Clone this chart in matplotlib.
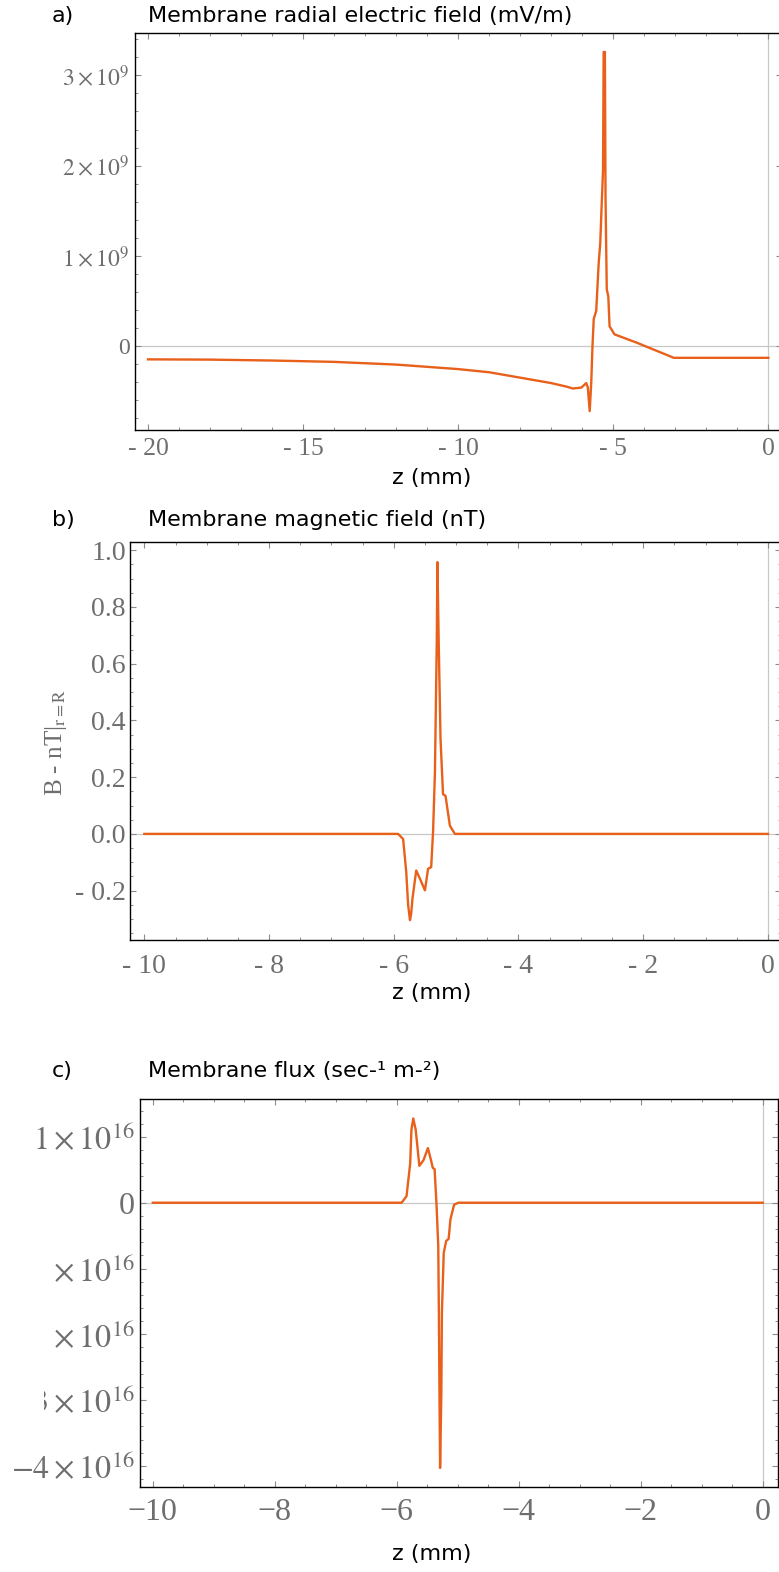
import matplotlib
matplotlib.use("Agg")
import matplotlib.pyplot as plt
from matplotlib.ticker import FixedLocator, MultipleLocator, FixedFormatter
from matplotlib.patches import Rectangle

# ---- data ----
# a) membrane radial electric field (units of 1e9 mV/m)
za = [-20, -18, -16, -14, -12, -10, -9, -8, -7, -6.5, -6.3, -6.03, -5.87, -5.82,
      -5.76, -5.71, -5.67, -5.63, -5.55, -5.47, -5.42, -5.38, -5.33, -5.31,
      -5.27, -5.25, -5.21, -5.16, -5.12, -4.96, -4.26, -3.19, -3.05, 0]
ea = [-0.147, -0.150, -0.160, -0.175, -0.205, -0.255, -0.29, -0.35, -0.41, -0.45,
      -0.47, -0.46, -0.41, -0.46, -0.72, -0.40, 0.0, 0.30, 0.39, 0.92, 1.14,
      1.51, 1.95, 3.26, 3.26, 1.66, 0.63, 0.55, 0.22, 0.13, 0.04, -0.11,
      -0.13, -0.13]

# b) membrane magnetic field (nT)
zb = [-10, -5.93, -5.85, -5.80, -5.77, -5.74, -5.72, -5.70, -5.64, -5.58, -5.50,
      -5.45, -5.40, -5.37, -5.34, -5.31, -5.30, -5.28, -5.25, -5.21, -5.17,
      -5.10, -5.02, 0]
bb = [0.0, 0.0, -0.018, -0.134, -0.25, -0.304, -0.28, -0.228, -0.129, -0.158,
      -0.199, -0.123, -0.117, 0.006, 0.216, 0.684, 0.958, 0.684, 0.333, 0.140,
      0.134, 0.029, 0.0, 0.0]

# c) membrane flux (units of 1e16 sec^-1 m^-2)
zc = [-10, -5.92, -5.84, -5.78, -5.76, -5.73, -5.69, -5.63, -5.56, -5.49, -5.44,
      -5.41, -5.38, -5.35, -5.32, -5.31, -5.30, -5.29, -5.27, -5.26, -5.23,
      -5.19, -5.15, -5.12, -5.06, -4.99, 0]
fc = [0.0, 0.0, 0.10, 0.60, 1.11, 1.28, 1.11, 0.56, 0.65, 0.83, 0.65, 0.53,
      0.51, 0.0, -0.66, -1.66, -2.92, -4.03, -2.92, -1.66, -0.76, -0.58, -0.55,
      -0.25, -0.03, 0.0, 0.0]

a_yticks = [0, 1, 2, 3]
a_ylabels = ["0", r"$1\times10^{9}$", r"$2\times10^{9}$", r"$3\times10^{9}$"]
a_xticks = [-20, -15, -10, -5, 0]
a_xlabels = ["- 20", "- 15", "- 10", "- 5", "0"]

b_yticks = [-0.2, 0.0, 0.2, 0.4, 0.6, 0.8, 1.0]
b_ylabels = ["- 0.2", "0.0", "0.2", "0.4", "0.6", "0.8", "1.0"]
b_xticks = [-10, -8, -6, -4, -2, 0]
b_xlabels = ["- 10", "- 8", "- 6", "- 4", "- 2", "0"]

c_yticks = [-4, -3, -2, -1, 0, 1]
c_ylabels = [r"$-4\times10^{16}$", r"$-3\times10^{16}$", r"$-2\times10^{16}$",
             r"$-1\times10^{16}$", "0", r"$1\times10^{16}$"]
c_xticks = [-10, -8, -6, -4, -2, 0]
c_xlabels = ["\u221210", "\u22128", "\u22126", "\u22124", "\u22122", "0"]

# ---- style ----
W, H = 779, 1572
ORANGE = "#E8601A"
GRAY = "#6e6e6e"
plt.rcParams["mathtext.fontset"] = "stix"
plt.rcParams["font.family"] = ["DejaVu Sans"]

fig = plt.figure(figsize=(W / 100, H / 100), dpi=100)


def add_axes(left, right, top, bottom):
    return fig.add_axes([left / W, 1 - bottom / H, (right - left) / W, (bottom - top) / H])


def style(ax, xsize, ysize, xpad, ypad, major_len=4, minor_len=2.2):
    for s in ax.spines.values():
        s.set_color("black")
        s.set_linewidth(1.0)
    ax.tick_params(which="both", direction="in", top=True, right=True, color="#8c8c8c")
    ax.tick_params(which="major", length=major_len, width=0.8)
    ax.tick_params(which="minor", length=minor_len, width=0.7)
    ax.tick_params(axis="x", pad=xpad)
    ax.tick_params(axis="y", pad=ypad)
    for lab in ax.get_xticklabels():
        lab.set_fontfamily("Liberation Serif")
        lab.set_fontsize(xsize)
        lab.set_color(GRAY)
    for lab in ax.get_yticklabels():
        lab.set_fontfamily("Liberation Serif")
        lab.set_fontsize(ysize)
        lab.set_color(GRAY)
    ax.axhline(0, color="#c8c8c8", lw=0.9, zorder=1)
    ax.axvline(0, color="#c8c8c8", lw=0.9, zorder=1)


LW = 1.7

# a)
ax = add_axes(135, 782, 33, 430)
ax.plot(za, ea, color=ORANGE, lw=LW, zorder=3)
ax.set_xlim(-20.42, 0.44)
ax.set_ylim(-0.93, 3.47)
ax.xaxis.set_major_locator(FixedLocator(a_xticks))
ax.xaxis.set_major_formatter(FixedFormatter(a_xlabels))
ax.xaxis.set_minor_locator(MultipleLocator(1))
ax.yaxis.set_major_locator(FixedLocator(a_yticks))
ax.yaxis.set_major_formatter(FixedFormatter(a_ylabels))
ax.yaxis.set_minor_locator(MultipleLocator(0.2))
style(ax, 18.5, 17, 6, 4)

# b)
bx = add_axes(130, 781, 542, 940)
bx.plot(zb, bb, color=ORANGE, lw=LW, zorder=3)
bx.set_xlim(-10.23, 0.21)
bx.set_ylim(-0.374, 1.029)
bx.xaxis.set_major_locator(FixedLocator(b_xticks))
bx.xaxis.set_major_formatter(FixedFormatter(b_xlabels))
bx.xaxis.set_minor_locator(MultipleLocator(0.5))
bx.yaxis.set_major_locator(FixedLocator(b_yticks))
bx.yaxis.set_major_formatter(FixedFormatter(b_ylabels))
bx.yaxis.set_minor_locator(MultipleLocator(0.05))
style(bx, 20, 20, 10, 3)

# c)
cx = add_axes(140, 778, 1099, 1487)
cx.plot(zc, fc, color=ORANGE, lw=LW, zorder=3)
cx.set_xlim(-10.21, 0.25)
cx.set_ylim(-4.32, 1.576)
cx.xaxis.set_major_locator(FixedLocator(c_xticks))
cx.xaxis.set_major_formatter(FixedFormatter(c_xlabels))
cx.xaxis.set_minor_locator(MultipleLocator(0.5))
cx.yaxis.set_major_locator(FixedLocator(c_yticks))
cx.yaxis.set_major_formatter(FixedFormatter(c_ylabels))
cx.yaxis.set_minor_locator(MultipleLocator(0.2))
style(cx, 23, 23, 8, 4)

# the reference has the left half of some flux labels hidden
fig.patches.append(Rectangle((0, 1 - 1352 / H), 54 / W, 106 / H, transform=fig.transFigure,
                             facecolor="white", edgecolor="none", zorder=10))
fig.patches.append(Rectangle((0, 1 - 1420 / H), 44 / W, 40 / H, transform=fig.transFigure,
                             facecolor="white", edgecolor="none", zorder=10))


def ftext(x, y, s, **kw):
    fig.text(x / W, 1 - y / H, s, va="center", **kw)


TS = 16
ftext(52, 16, "a)", fontsize=TS)
ftext(148, 16, "Membrane radial electric field (mV/m)", fontsize=TS)
ftext(432, 478, "z (mm)", fontsize=TS, ha="center")

ftext(52, 520, "b)", fontsize=TS)
ftext(148, 520, "Membrane magnetic field (nT)", fontsize=TS)
ftext(432, 993, "z (mm)", fontsize=TS, ha="center")
fig.text(56 / W, 1 - 742 / H, r"B - nT|$_{\rm r=R}$", rotation=90, ha="center", va="center",
         fontsize=18, color=GRAY, fontfamily="Liberation Serif")

ftext(52, 1071, "c)", fontsize=TS)
ftext(148, 1071, "Membrane flux (sec-\u00b9 m-\u00b2)", fontsize=TS)
ftext(432, 1554, "z (mm)", fontsize=TS, ha="center")

fig.savefig("out.png", dpi=100)
